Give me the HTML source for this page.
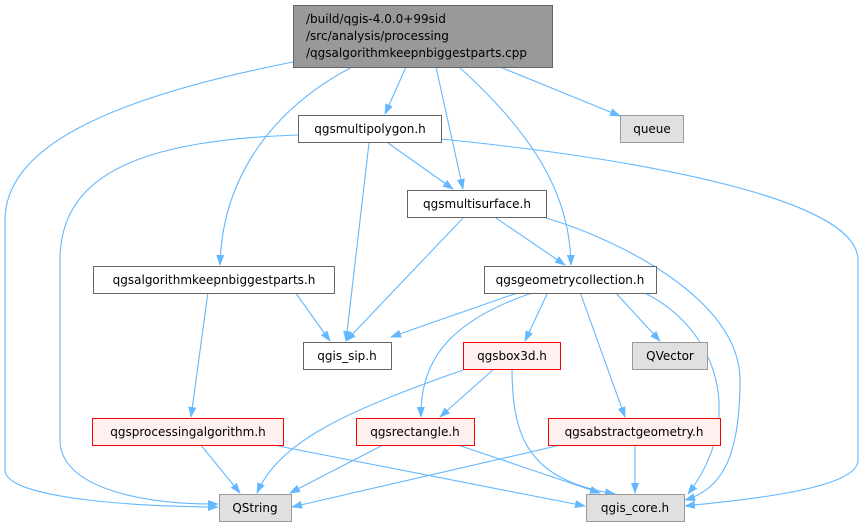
<!DOCTYPE html>
<html><head><meta charset="utf-8"><style>
html,body{margin:0;padding:0;background:#fff;}
svg{display:block;}
text{font-family:"DejaVu Sans","Liberation Sans",sans-serif;font-size:12px;fill:#000;}
</style></head><body>
<svg width="864" height="526" viewBox="0 0 864 526" xmlns="http://www.w3.org/2000/svg">
<defs>
<marker id="a" markerWidth="11" markerHeight="8" refX="10" refY="4" orient="auto" markerUnits="userSpaceOnUse">
<polygon points="0,0 11,4 0,8" fill="#63b8ff"/>
</marker>
</defs>
<g fill="none" stroke="#63b8ff" stroke-width="1.1" marker-end="url(#a)">
<path d="M293,62 C100,100 5,150 5,220 L5,470 C5,500 150,507 218,507"/>
<path d="M352,67 C270,110 222,180 220,265"/>
<path d="M406,67 L385,114"/>
<path d="M436,67 L463,189"/>
<path d="M459,67 C540,140 570,200 571,265"/>
<path d="M500,67 L620,116"/>
<path d="M298,135 C150,140 60,170 60,260 L60,440 C60,490 150,505 218,504"/>
<path d="M369,143 L346,341"/>
<path d="M388,143 L453,189"/>
<path d="M441,139 C650,160 858,200 858,260 L858,460 C858,490 740,500 685,506"/>
<path d="M496,218 L565,265"/>
<path d="M463,218 L346,341"/>
<path d="M546,218 C620,240 740,300 740,380 C740,460 720,490 685,500"/>
<path d="M295,292 L330,341"/>
<path d="M208,292 L191,417"/>
<path d="M520,292 L391,337"/>
<path d="M548,292 L525,341"/>
<path d="M615,292 L660,341"/>
<path d="M535,292 C450,320 420,360 421,417"/>
<path d="M580,292 L625,417"/>
<path d="M643,292 C720,330 745,420 688,494"/>
<path d="M463,370 C350,410 280,440 257,493"/>
<path d="M495,368 L440,417"/>
<path d="M512,368 C512,440 530,480 615,494"/>
<path d="M200,444 L240,493"/>
<path d="M268,444 L585,506"/>
<path d="M385,444 L290,493"/>
<path d="M455,444 L600,493"/>
<path d="M565,444 L292,507"/>
<path d="M635,444 L635,493"/>
</g>
<g stroke-width="1">
<rect x="293.5" y="5.5" width="259" height="62" fill="#999" stroke="#666"/>
<rect x="298.5" y="115.5" width="143" height="27" fill="#fff" stroke="#666"/>
<rect x="620.5" y="115.5" width="63" height="27" fill="#e0e0e0" stroke="#999"/>
<rect x="407.5" y="190.5" width="139" height="27" fill="#fff" stroke="#666"/>
<rect x="93.5" y="266.5" width="241" height="27" fill="#fff" stroke="#666"/>
<rect x="484.5" y="266.5" width="172" height="27" fill="#fff" stroke="#666"/>
<rect x="303.5" y="342.5" width="88" height="27" fill="#fff" stroke="#666"/>
<rect x="463.5" y="342.5" width="97" height="27" fill="#fff0f0" stroke="#f00"/>
<rect x="632.5" y="342.5" width="75" height="27" fill="#e0e0e0" stroke="#999"/>
<rect x="92.5" y="418.5" width="191" height="27" fill="#fff0f0" stroke="#f00"/>
<rect x="356.5" y="418.5" width="118" height="27" fill="#fff0f0" stroke="#f00"/>
<rect x="548.5" y="418.5" width="172" height="27" fill="#fff0f0" stroke="#f00"/>
<rect x="219.5" y="494.5" width="72" height="27" fill="#e0e0e0" stroke="#999"/>
<rect x="586.5" y="494.5" width="98" height="27" fill="#e0e0e0" stroke="#999"/>
</g>
<text x="306" y="23">/build/qgis-4.0.0+99sid</text>
<text x="306" y="40">/src/analysis/processing</text>
<text x="306" y="57">/qgsalgorithmkeepnbiggestparts.cpp</text>
<g text-anchor="middle">
<text x="370" y="133">qgsmultipolygon.h</text>
<text x="652" y="133">queue</text>
<text x="477" y="208">qgsmultisurface.h</text>
<text x="214" y="284">qgsalgorithmkeepnbiggestparts.h</text>
<text x="570" y="284">qgsgeometrycollection.h</text>
<text x="347" y="360">qgis_sip.h</text>
<text x="512" y="360">qgsbox3d.h</text>
<text x="670" y="360">QVector</text>
<text x="188" y="436">qgsprocessingalgorithm.h</text>
<text x="415" y="436">qgsrectangle.h</text>
<text x="634" y="436">qgsabstractgeometry.h</text>
<text x="255" y="512">QString</text>
<text x="635" y="512">qgis_core.h</text>
</g>
</svg>
</body></html>
